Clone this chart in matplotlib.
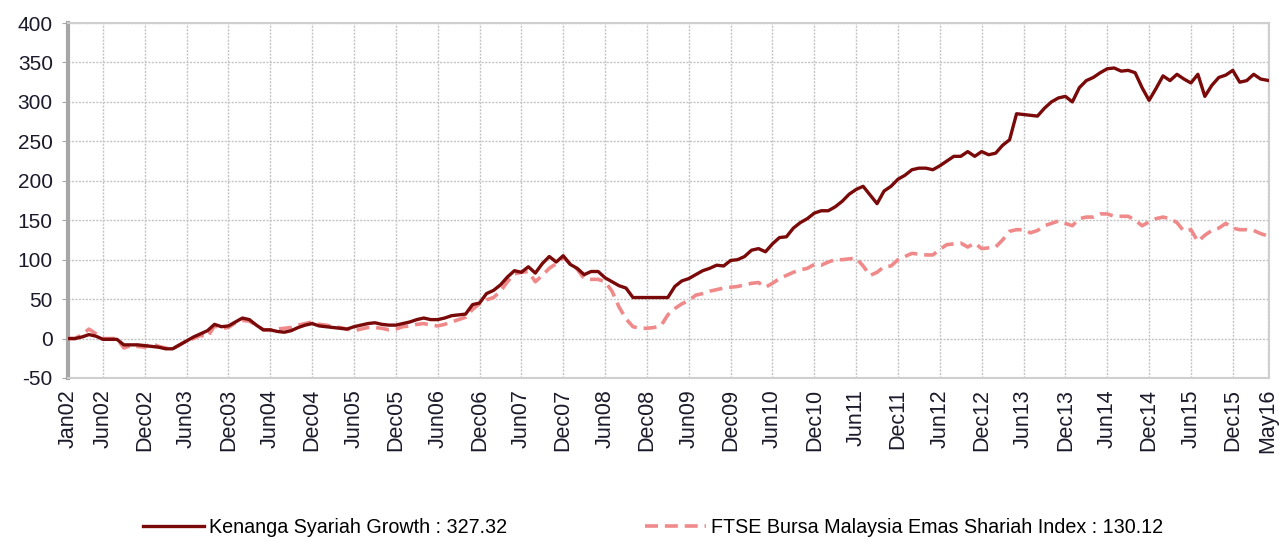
import matplotlib.pyplot as plt

plt.rcParams['font.family'] = ['Liberation Sans', 'DejaVu Sans']
plt.rcParams['axes.unicode_minus'] = False

# monthly points, Jan02 .. May16 (173 months)
kenanga = [0, 0, 2, 5, 3, -1, -1, -1, -8, -8, -8, -9,
           -10, -11, -13, -13, -8, -3, 2, 6, 10, 18, 15, 16,
           21, 26, 24, 17, 11, 11, 9, 8, 10, 14, 17, 19,
           16, 15, 14, 13, 12, 15, 17, 19, 20, 18, 17, 17,
           19, 21, 24, 26, 24, 24, 26, 29, 30, 31, 43, 45,
           57, 61, 68, 78, 86, 84, 91, 83, 95, 104, 97, 105,
           94, 89, 81, 85, 85, 77, 72, 67, 64, 52, 52, 52,
           52, 52, 52, 66, 73, 76, 81, 86, 89, 93, 92, 99,
           100, 104, 112, 114, 110, 120, 128, 129, 140, 147, 152, 159,
           162, 162, 167, 174, 183, 189, 193, 182, 171, 187, 193, 202,
           207, 214, 216, 216, 214, 219, 225, 231, 231, 237, 231, 237,
           233, 235, 245, 252, 285, 284, 283, 282, 292, 300, 305, 307,
           300, 318, 327, 331, 337, 342, 343, 339, 340, 337, 318, 302,
           317, 333, 327, 335, 329, 324, 335, 307, 321, 331, 334, 340,
           325, 327, 335, 329, 327.32]

ftse = [0, 0, 5, 12, 6, 0, 0, 0, -12, -9, -10, -11,
        -6, -10, -12, -13, -8, -3, 0, 4, 2, 16, 13, 14,
        20, 23, 22, 17, 11, 11, 12, 13, 14, 17, 19, 21,
        18, 17, 15, 14, 12, 10, 12, 14, 14, 13, 11, 12,
        15, 16, 18, 19, 17, 16, 18, 21, 24, 27, 37, 44,
        49, 52, 60, 72, 82, 84, 85, 72, 80, 89, 95, 103,
        95, 88, 76, 75, 75, 72, 60, 40, 25, 15, 13, 13,
        14, 16, 30, 38, 44, 48, 55, 57, 60, 62, 64, 65,
        66, 68, 70, 71, 65, 70, 76, 80, 84, 87, 89, 94,
        93, 97, 100, 100, 101, 102, 92, 80, 84, 91, 92, 100,
        104, 108, 107, 106, 106, 113, 119, 120, 121, 116, 121, 114,
        115, 116, 125, 136, 138, 138, 134, 137, 143, 146, 149, 146,
        143, 152, 154, 154, 158, 158, 155, 155, 155, 150, 143, 148,
        152, 154, 152, 147, 136, 138, 123, 131, 137, 140, 146, 140,
        138, 138, 137, 133, 130.12]

tick_idx = [0, 5, 11, 17, 23, 29, 35, 41, 47, 53, 59, 65, 71, 77, 83,
            89, 95, 101, 107, 113, 119, 125, 131, 137, 143, 149, 155,
            161, 167, 172]
tick_labels = ["Jan02", "Jun02", "Dec02", "Jun03", "Dec03", "Jun04", "Dec04",
               "Jun05", "Dec05", "Jun06", "Dec06", "Jun07", "Dec07", "Jun08",
               "Dec08", "Jun09", "Dec09", "Jun10", "Dec10", "Jun11", "Dec11",
               "Jun12", "Dec12", "Jun13", "Dec13", "Jun14", "Dec14", "Jun15",
               "Dec15", "May16"]

fig = plt.figure(figsize=(12.79, 5.43), dpi=100)
ax = fig.add_axes([0.0532, 0.3039, 0.9390, 0.6537])

x = list(range(len(kenanga)))
ax.plot(x, ftse, color='#f08a8a', lw=2.6, ls=(0, (3.6, 1.9)),
        label='FTSE Bursa Malaysia Emas Shariah Index : 130.12', zorder=3)
ax.plot(x, kenanga, color='#7a0a0a', lw=2.4,
        label='Kenanga Syariah Growth : 327.32', zorder=4)

ax.set_xlim(0, 172.2)
ax.set_ylim(-50, 400)
ax.set_yticks(range(-50, 401, 50))
ax.set_xticks(tick_idx)
ax.set_xticklabels(tick_labels, rotation=90)

ax.grid(True, color='#c4c4c4', ls=(0, (1.5, 1.0)), lw=1.0)
ax.set_axisbelow(True)

for s in ['top', 'bottom', 'right']:
    ax.spines[s].set_color('#cfcfcf')
    ax.spines[s].set_linewidth(1.5)
ax.spines['left'].set_color('#a6a6a6')
ax.spines['left'].set_linewidth(3)

ax.tick_params(axis='y', labelsize=15, colors='#1a1a2a', length=4,
               color='#a6a6a6', pad=7)
ax.tick_params(axis='x', labelsize=15.5, colors='#1a1a2a', length=0, pad=8)

h, l = ax.get_legend_handles_labels()
fig.legend(h[::-1], l[::-1], loc='center left', bbox_to_anchor=(0.098, 0.028),
           ncol=2, frameon=False, handlelength=3.1, columnspacing=7.0,
           handletextpad=0.25, prop={'size': 14.2})

fig.savefig('out.png', dpi=100)
